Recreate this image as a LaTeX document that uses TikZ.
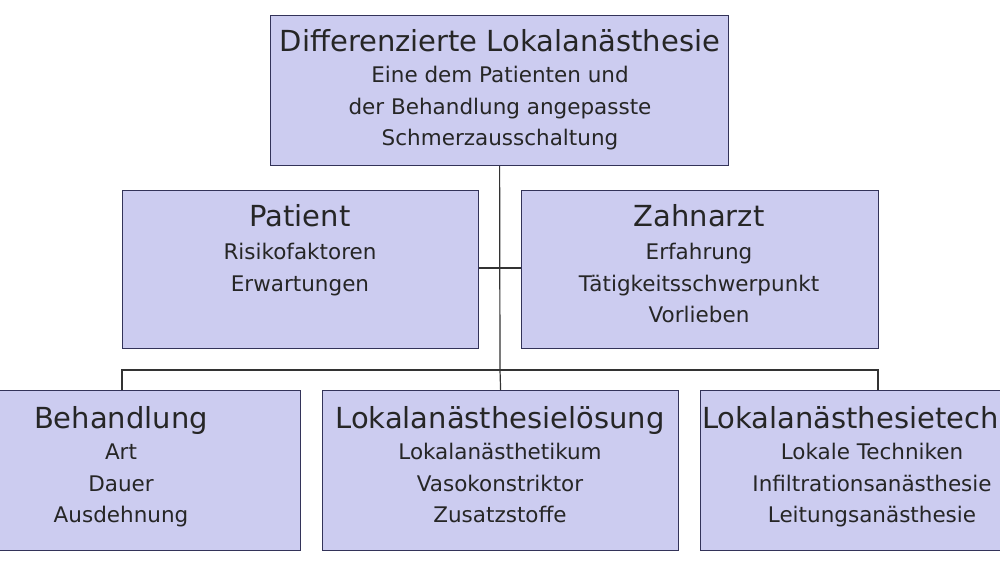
\documentclass[tikz,border=0pt]{standalone}
\usepackage{fontspec}
\setmainfont{DejaVu Sans}
\begin{document}
\begin{tikzpicture}[x=1pt,y=-1pt,
 box/.style={draw=black!75!blue!60!gray, line width=1.2pt, fill=boxfill, minimum width=#1, anchor=north west, inner sep=0pt},
 txt/.style={align=center, anchor=north, inner sep=0pt, font=\fontsize{21.5}{31.5}\selectfont, text=black!85}]
\definecolor{boxfill}{RGB}{204,204,240}
\useasboundingbox (0,0) rectangle (1000,562);
\clip (0,0) rectangle (1000,562);
\fill[white] (0,0) rectangle (1000,562);
\def\bx#1#2#3#4#5{\node[box=#4-#2pt, minimum height=#5-#3pt] (#1) at (#2,#3) {};}
\bx{top}{270}{15}{728}{165}
\bx{pat}{122}{190}{478}{348}
\bx{zahn}{521}{190}{878}{348}
\bx{beh}{-2}{390}{300}{550}
\bx{loes}{322}{390}{678}{550}
\bx{tech}{700}{390}{1040}{550}
\node[txt] (ttop) at (500,29) {{\fontsize{29}{32}\selectfont Differenzierte Lokalanästhesie}\\[0pt]Eine dem Patienten und\\der Behandlung angepasste\\Schmerzausschaltung};
\node[txt] (tpat) at (300,204) {{\fontsize{29}{32}\selectfont Patient}\\[2pt]Risikofaktoren\\Erwartungen};
\node[txt] (tzahn) at (699,204) {{\fontsize{29}{32}\selectfont Zahnarzt}\\[2pt]Erfahrung\\Tätigkeitsschwerpunkt\\Vorlieben};
\node[txt] (tbeh) at (121,406) {{\fontsize{29}{32}\selectfont Behandlung}\\[0pt]Art\\Dauer\\Ausdehnung};
\node[txt] (tloes) at (500,406) {{\fontsize{29}{32}\selectfont Lokalanästhesielösung}\\[0pt]Lokalanästhetikum\\Vasokonstriktor\\Zusatzstoffe};
\node[txt] (ttech) at (872,406) {{\fontsize{29}{32}\selectfont Lokalanästhesietechnik}\\[0pt]Lokale Techniken\\Infiltrationsanästhesie\\Leitungsanästhesie};
\coordinate (j1) at (500,268);
\coordinate (j2) at (500,370);
\begin{scope}[line width=1.2pt, draw=black!80]
\draw (top.south) -- (j2);
\draw (pat.east |- j1) -- (zahn.west |- j1);
\draw (beh.north -| 122,0) -- (122,370) -- (878,370) -- (tech.north -| 878,0);
\draw (j2) -- (loes.north);
\end{scope}
\end{tikzpicture}
\end{document}
